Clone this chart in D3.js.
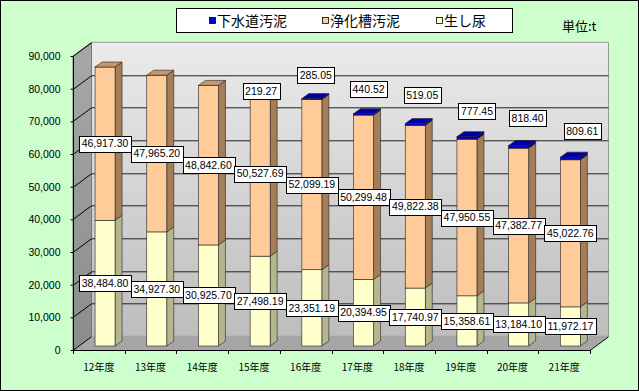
<!DOCTYPE html>
<html><head><meta charset="utf-8">
<script src="https://cdn.jsdelivr.net/npm/d3@7/dist/d3.min.js"></script>
<style>
html,body{margin:0;padding:0;background:#CCFFCC;}
svg{display:block;}
</style></head>
<body>
<script>
// ---- data ----
const categories = ["12年度","13年度","14年度","15年度","16年度","17年度","18年度","19年度","20年度","21年度"];
const seriesNames = ["生し尿","浄化槽汚泥","下水道汚泥"];
const nightsoil = [38484.80,34927.30,30925.70,27498.19,23351.19,20394.95,17740.97,15358.61,13184.10,11972.17];
const septic = [46917.30,47965.20,48842.60,50527.69,52099.19,50299.48,49822.38,47950.55,47382.77,45022.76];
const sewage = [0,0,0,219.27,285.05,440.52,519.05,777.45,818.40,809.61];
const yTicks = [0,10000,20000,30000,40000,50000,60000,70000,80000,90000];
const unitLabel = "単位:t";

// ---- layout ----
const W = 639, H = 391;
const FX0 = 73, FX1 = 590, FY0 = 350, FYTOP = 56;
const DX = 18.5, DY = -13.7;          // wall depth
const BDX = 7, BDY = -5;              // bar depth
const BOFFX = 6.2, BOFFY = -4;        // bar placement within depth
const BW = 20;
// manual label nudges for the small 下水道汚泥 labels
const sewLabelDx = [0,0,0,1,4,5,7,10,9,12];
const sewLabelDy = [0,0,0,0,-24,-25,-29,-27,-29,-27];

const colors = {
  front: ["#FFFFCC","#FFCC99","#0000CC"],
  side:  ["#B5B58E","#A57D57","#00007A"],
  top:   ["#E0E0B0","#C9956A","#0000A8"]
};

const svg = d3.select("body").append("svg").attr("width", W).attr("height", H);
const defs = svg.append("defs");
const gBack = defs.append("linearGradient").attr("id","gBack").attr("x1",0).attr("y1",0).attr("x2",0).attr("y2",1);
gBack.append("stop").attr("offset","0%").attr("stop-color","#EBEBEB");
gBack.append("stop").attr("offset","100%").attr("stop-color","#BDBDBD");
const gLeft = defs.append("linearGradient").attr("id","gLeft").attr("x1",0).attr("y1",0).attr("x2",0).attr("y2",1);
gLeft.append("stop").attr("offset","0%").attr("stop-color","#A8A8A8");
gLeft.append("stop").attr("offset","100%").attr("stop-color","#8C8C8C");

// outer frame
svg.append("rect").attr("x",0.5).attr("y",0.5).attr("width",W-1).attr("height",H-1)
  .attr("fill","#CCFFCC").attr("stroke","#000").attr("stroke-width",1);

const y = d3.scaleLinear().domain([0,90000]).range([FY0, FYTOP]);
const x = d3.scaleBand().domain(categories).range([FX0, FX1]).paddingInner(0).paddingOuter(0);

const pts = a => a.map(p => p.join(",")).join(" ");

// walls
const topY = y(90000);
svg.append("polygon").attr("points", pts([[FX0+DX, topY+DY],[FX1+DX, topY+DY],[FX1+DX, FY0+DY],[FX0+DX, FY0+DY]]))
  .attr("fill","url(#gBack)").attr("stroke","#999").attr("stroke-width",1);
svg.append("polygon").attr("points", pts([[FX0, topY],[FX0+DX, topY+DY],[FX0+DX, FY0+DY],[FX0, FY0]]))
  .attr("fill","url(#gLeft)").attr("stroke","#777").attr("stroke-width",1);
svg.append("polygon").attr("points", pts([[FX0, FY0],[FX0+DX, FY0+DY],[FX1+DX, FY0+DY],[FX1, FY0]]))
  .attr("fill","#A6A6A6").attr("stroke","none");

// gridlines
const grid = svg.append("g").attr("stroke","#000").attr("stroke-width",1).attr("fill","none");
yTicks.forEach(v => {
  const yy = Math.round(y(v)) + 0.5;
  grid.append("line").attr("x1",FX0).attr("y1",yy).attr("x2",FX0+DX).attr("y2",yy+DY);
  if (v > 0 && v < 90000) {
    grid.append("line").attr("x1",FX0+DX).attr("y1",yy+DY).attr("x2",FX1+DX).attr("y2",yy+DY).attr("stroke","#222");
  }
});

// floor edges
svg.append("line").attr("x1",FX1).attr("y1",FY0+0.5).attr("x2",FX1+DX).attr("y2",FY0+DY+0.5).attr("stroke","#000");

// y axis
const yAxis = d3.axisLeft(y).tickValues(yTicks).tickFormat(d3.format(",")).tickSize(3).tickPadding(10);
const ga = svg.append("g").attr("transform",`translate(${FX0+0.5},0)`).call(yAxis);
ga.select(".domain").attr("stroke","#000").attr("d",`M0,${y(90000)}V${FY0}`);
ga.selectAll(".tick line").attr("stroke","#000");
ga.selectAll(".tick text").attr("font-family","Liberation Sans, Arial, sans-serif").attr("font-size","10.5px").attr("fill","#000");

// x axis
svg.append("line").attr("x1",FX0).attr("y1",FY0+0.5).attr("x2",FX1).attr("y2",FY0+0.5).attr("stroke","#000");
const bounds = categories.map(c => x(c)).concat([FX1]);
bounds.forEach(bx => {
  svg.append("line").attr("x1",Math.round(bx)+0.5).attr("y1",FY0).attr("x2",Math.round(bx)+0.5).attr("y2",FY0+4).attr("stroke","#000");
});
const xAxis = d3.axisBottom(x).tickSize(0).tickPadding(14);
const gx = svg.append("g").attr("transform",`translate(0,${FY0})`).call(xAxis);
gx.select(".domain").remove();
gx.selectAll(".tick text").attr("font-family","'Noto Sans CJK JP', sans-serif").attr("font-size","10px").attr("fill","#000");

// bars
const table = categories.map((c,i) => ({cat:c, s0:nightsoil[i], s1:septic[i], s2:sewage[i]}));
const stack = d3.stack().keys(["s0","s1","s2"])(table);
const barsG = svg.append("g");
categories.forEach((c,i) => {
  const cx = x(c) + x.bandwidth()/2 + BOFFX;
  const xl = cx - BW/2, xr = cx + BW/2;
  let topIdx = 0;
  stack.forEach((layer,k) => {
    const v0 = layer[i][0], v1 = layer[i][1];
    if (v1 - v0 <= 0) return;
    topIdx = k;
    const yb = y(v0) + BOFFY, yt = y(v1) + BOFFY;
    barsG.append("polygon").attr("points", pts([[xr,yb],[xr+BDX,yb+BDY],[xr+BDX,yt+BDY],[xr,yt]]))
      .attr("fill",colors.side[k]).attr("stroke","#222").attr("stroke-width",0.6);
    barsG.append("rect").attr("x",xl).attr("y",yt).attr("width",BW).attr("height",yb-yt)
      .attr("fill",colors.front[k]).attr("stroke","#222").attr("stroke-width",0.6);
  });
  const tot = stack[2][i][1];
  const yt = y(tot) + BOFFY;
  barsG.append("polygon").attr("points", pts([[xl,yt],[xl+BDX,yt+BDY],[xr+BDX,yt+BDY],[xr,yt]]))
    .attr("fill",colors.top[topIdx]).attr("stroke","#222").attr("stroke-width",0.6);
});

// data labels
const labG = svg.append("g");
const fmt = d3.format(",.2f");
function label(cx, cy, txt) {
  const g = labG.append("g");
  const t = g.append("text").attr("x",cx).attr("y",cy).attr("text-anchor","middle").attr("dy","0.36em")
    .attr("font-family","Liberation Sans, Arial, sans-serif").attr("font-size","10.5px").attr("fill","#000").text(txt);
  const w = t.node().getComputedTextLength() + 5;
  g.insert("rect","text").attr("x",Math.round(cx - w/2)+0.5).attr("y",Math.round(cy-8)+0.5).attr("width",Math.round(w)).attr("height",16)
    .attr("fill","#fff").attr("stroke","#000").attr("stroke-width",1);
}
categories.forEach((c,i) => {
  const cx = x(c) + x.bandwidth()/2 + BOFFX;
  stack.forEach((layer,k) => {
    const v0 = layer[i][0], v1 = layer[i][1];
    if (v1 - v0 <= 0) return;
    let cy = (y(v0) + y(v1))/2 + BOFFY;
    let lx = cx;
    if (k === 2) { lx += sewLabelDx[i]; cy += sewLabelDy[i]; }
    label(lx, cy, fmt(v1 - v0));
  });
});

// legend
const lg = svg.append("g");
lg.append("rect").attr("x",176.5).attr("y",8.5).attr("width",336).attr("height",24).attr("fill","#fff").attr("stroke","#000");
const legendItems = [{n:seriesNames[2],k:2,x:209},{n:seriesNames[1],k:1,x:322},{n:seriesNames[0],k:0,x:436}];
legendItems.forEach(d => {
  lg.append("rect").attr("x",d.x+0.5).attr("y",17.5).attr("width",6).attr("height",6).attr("fill",colors.front[d.k]).attr("stroke","#000").attr("stroke-width",0.8);
  lg.append("text").attr("x",d.x+8).attr("y",21).attr("dy","0.36em").attr("font-family","'Noto Sans CJK JP', sans-serif").attr("font-size","14px").attr("fill","#000").text(d.n);
});
svg.append("text").attr("x",562).attr("y",26).attr("dy","0.36em").attr("font-family","'Noto Sans CJK JP', sans-serif").attr("font-size","13px").attr("fill","#000").text(unitLabel);
</script>
</body></html>
